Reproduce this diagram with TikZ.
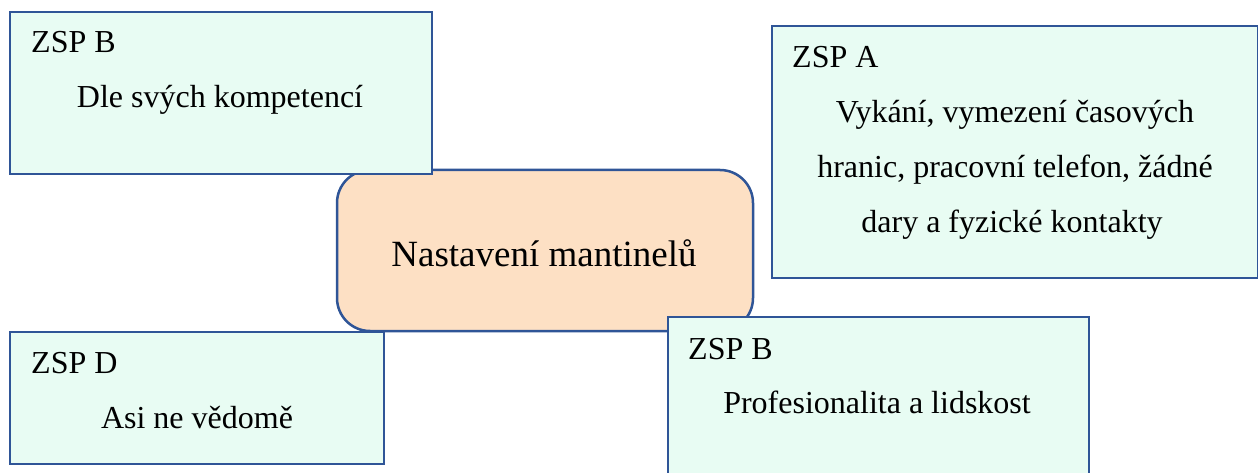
\documentclass[tikz,border=0pt]{standalone}
\usepackage{fontspec}
\setmainfont{Liberation Serif}
\definecolor{mint}{HTML}{E8FCF3}
\definecolor{peach}{HTML}{FDE0C4}
\definecolor{edge}{HTML}{2F5597}
\begin{document}
\begin{tikzpicture}[x=1pt,y=-1pt,
  box/.style={draw=edge,fill=mint,line width=2.5pt,inner sep=0pt,outer sep=0pt,anchor=north west},
  hub/.style={draw=edge,fill=peach,line width=2.5pt,inner sep=0pt,outer sep=0pt,anchor=north west,rounded corners=33pt},
  lbl/.style={anchor=base west,inner sep=0pt,font=\fontsize{32}{38}\selectfont},
  txt/.style={anchor=base,inner sep=0pt,font=\fontsize{32}{38}\selectfont},
  hubtxt/.style={anchor=base,inner sep=0pt,font=\fontsize{37}{44}\selectfont}]
\useasboundingbox (0,0) rectangle (1258,473);
% central node
\node[hub,minimum width=416pt,minimum height=161pt] (hub) at (337,170) {};
\node[hubtxt] (hubt) at (544,266) {Nastavení mantinelů};
% top left
\node[box,minimum width=422pt,minimum height=162pt] (b1) at (10,12) {};
\node[lbl] (b1h) at (31,53) {ZSP B};
\node[txt] (b1t) at (220,108) {Dle svých kompetencí};
% top right
\node[box,minimum width=486pt,minimum height=252pt] (b2) at (772,26) {};
\node[lbl] (b2h) at (792,68) {ZSP A};
\node[txt] (b2t1) at (1015,123) {Vykání, vymezení časových};
\node[txt] (b2t2) at (1015,178) {hranic, pracovní telefon, žádné};
\node[txt] (b2t3) at (1012,233) {dary a fyzické kontakty};
% bottom left
\node[box,minimum width=374pt,minimum height=132pt] (b3) at (10,332) {};
\node[lbl] (b3h) at (31,373) {ZSP D};
\node[txt] (b3t) at (197,428) {Asi ne vědomě};
% bottom right
\node[box,minimum width=421pt,minimum height=200pt] (b4) at (668,317) {};
\node[lbl] (b4h) at (688,359) {ZSP B};
\node[txt] (b4t) at (877,413) {Profesionalita a lidskost};
\end{tikzpicture}
\end{document}
